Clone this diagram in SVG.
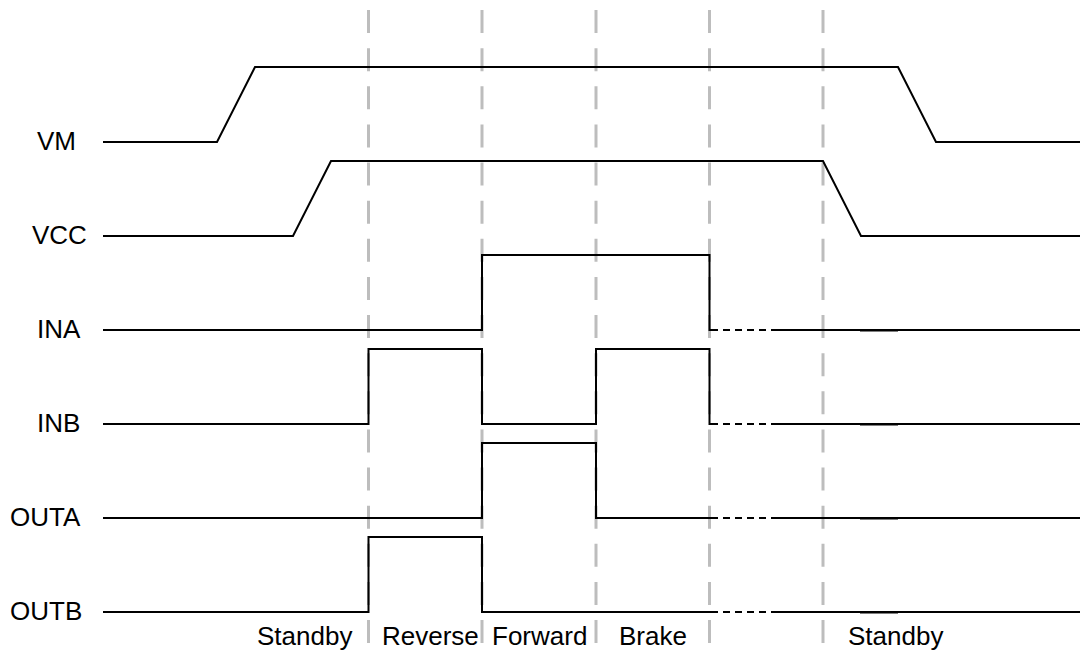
<svg xmlns="http://www.w3.org/2000/svg" width="1082" height="654" viewBox="0 0 1082 654">
<style>
.lbl{font-family:"Liberation Sans",Arial,sans-serif;font-size:26px;fill:#000}
.sig{fill:none;stroke:#000;stroke-width:2;stroke-linejoin:miter}
.dsh{fill:none;stroke:#000;stroke-width:2;stroke-dasharray:7 5}
.grid{fill:none;stroke:#bdbdbd;stroke-width:3;stroke-dasharray:23 15.125}
</style>
<rect width="1082" height="654" fill="#fff"/>
<g id="dividers">
<line class="grid" x1="368.5" y1="10" x2="368.5" y2="645"/>
<line class="grid" x1="482" y1="10" x2="482" y2="645"/>
<line class="grid" x1="596" y1="10" x2="596" y2="645"/>
<line class="grid" x1="709.5" y1="10" x2="709.5" y2="645"/>
<line class="grid" x1="823" y1="10" x2="823" y2="645"/>
</g>
<g id="VM">
<text class="lbl" x="37" y="150">VM</text>
<polyline class="sig" points="103,142 217,142 255,67 898,67 936,142 1080,142"/>
</g>
<g id="VCC">
<text class="lbl" x="32" y="244">VCC</text>
<polyline class="sig" points="103,236 293,236 331,161 823,161 861,236 1080,236"/>
</g>
<g id="INA">
<text class="lbl" x="37" y="338">INA</text>
<polyline class="sig" points="103,330 482,330 482,255 709.5,255 709.5,330 711,330"/>
<line class="dsh" x1="711" y1="330" x2="778" y2="330"/>
<line class="sig" x1="778" y1="330" x2="1080" y2="330"/>
<line class="sig" x1="860" y1="330.6" x2="898" y2="330.6"/>
</g>
<g id="INB">
<text class="lbl" x="37" y="432">INB</text>
<polyline class="sig" points="103,424 368.5,424 368.5,349 482,349 482,424 596,424 596,349 709.5,349 709.5,424 711,424"/>
<line class="dsh" x1="711" y1="424" x2="778" y2="424"/>
<line class="sig" x1="778" y1="424" x2="1080" y2="424"/>
<line class="sig" x1="860" y1="424.6" x2="898" y2="424.6"/>
</g>
<g id="OUTA">
<text class="lbl" x="10" y="526">OUTA</text>
<polyline class="sig" points="103,518 482,518 482,443 596,443 596,518 711,518"/>
<line class="dsh" x1="711" y1="518" x2="778" y2="518"/>
<line class="sig" x1="778" y1="518" x2="1080" y2="518"/>
<line class="sig" x1="860" y1="518.6" x2="898" y2="518.6"/>
</g>
<g id="OUTB">
<text class="lbl" x="10" y="620">OUTB</text>
<polyline class="sig" points="103,612 368.5,612 368.5,537 482,537 482,612 711,612"/>
<line class="dsh" x1="711" y1="612" x2="778" y2="612"/>
<line class="sig" x1="778" y1="612" x2="1080" y2="612"/>
<line class="sig" x1="860" y1="612.6" x2="898" y2="612.6"/>
</g>
<g id="states">
<text class="lbl" x="257" y="645">Standby</text>
<text class="lbl" x="382" y="645">Reverse</text>
<text class="lbl" x="492" y="645">Forward</text>
<text class="lbl" x="619" y="645">Brake</text>
<text class="lbl" x="848" y="645">Standby</text>
</g>
</svg>
